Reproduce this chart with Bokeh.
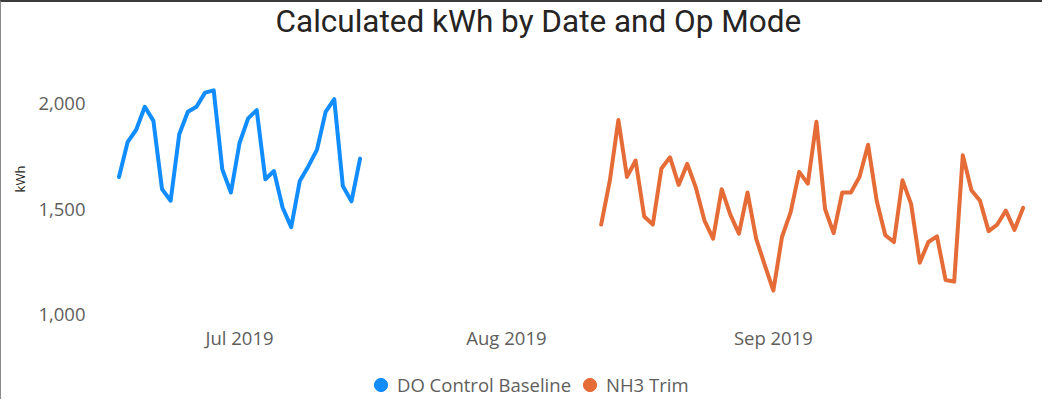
import pandas as pd
from bokeh.plotting import figure
from bokeh.layouts import column
from bokeh.models import (Range1d, FixedTicker, DatetimeTickFormatter,
                          NumeralTickFormatter, Legend, LegendItem, Title)
from bokeh.embed import file_html
from bokeh.resources import INLINE

# ---------------- data ----------------
title_text = "Calculated kWh by Date and Op Mode"
y_label = "kWh"
series_names = ["DO Control Baseline", "NH3 Trim"]
series_colors = ["#118DFF", "#E66C37"]

baseline_start = "2019-06-17"
baseline_kwh = [1653, 1818, 1877, 1986, 1919, 1595, 1540, 1856, 1962, 1986,
                2053, 2064, 1689, 1579, 1814, 1931, 1970, 1642, 1681, 1508,
                1415, 1634, 1704, 1783, 1962, 2022, 1610, 1537, 1740]

trim_start = "2019-08-12"
trim_kwh = [1427, 1634, 1923, 1653, 1731, 1465, 1427, 1693, 1746, 1615,
            1715, 1602, 1446, 1360, 1595, 1474, 1384, 1579, 1360, 1235,
            1114, 1368, 1485, 1677, 1621, 1915, 1501, 1386, 1579, 1579,
            1653, 1806, 1540, 1376, 1344, 1637, 1524, 1246, 1344, 1371,
            1164, 1156, 1756, 1590, 1540, 1396, 1427, 1493, 1402, 1506]

x_tick_dates = ["2019-07-01", "2019-08-01", "2019-09-01"]
y_ticks = [1000, 1500, 2000]

# ---------------- helpers ----------------
def ms(ts):
    return pd.Timestamp(ts).timestamp() * 1000.0

DAY = 86400000.0
baseline_dates = pd.date_range(baseline_start, periods=len(baseline_kwh), freq="D")
trim_dates = pd.date_range(trim_start, periods=len(trim_kwh), freq="D")
series_dates = [baseline_dates, trim_dates]
series_values = [baseline_kwh, trim_kwh]

x_start = ms("2019-07-01") - 16.03 * DAY
x_end = ms("2019-07-01") + 92.56 * DAY

FONT = "Open Sans"
TICK_COLOR = "#605E5C"
W = 1041

# ---------------- main chart ----------------
p = figure(width=W, height=350, output_backend="svg", toolbar_location=None,
           x_axis_type="datetime",
           x_range=Range1d(x_start, x_end), y_range=Range1d(990.6, 2295.8),
           min_border_left=100, min_border_right=6,
           min_border_top=39, min_border_bottom=33)
p.outline_line_color = None
p.xgrid.grid_line_color = None
p.ygrid.grid_line_color = None
p.background_fill_color = "white"
p.border_fill_color = "white"

p.title = Title(text=title_text, align="left", offset=174, vertical_align="top",
                standoff=0, text_font="Roboto", text_font_size="31.5px",
                text_font_style="normal", text_color="#252423")

for d, v, col in zip(series_dates, series_values, series_colors):
    p.line(d, v, line_color=col, line_width=4, line_join="round", line_cap="round")

xa = p.xaxis[0]
xa.ticker = FixedTicker(ticks=[ms(d) for d in x_tick_dates])
fmt = "%b %Y"
xa.formatter = DatetimeTickFormatter(microseconds=fmt, milliseconds=fmt, seconds=fmt,
                                     minsec=fmt, minutes=fmt, hourmin=fmt, hours=fmt,
                                     days=fmt, months=fmt, years=fmt)
xa.axis_line_color = None
xa.major_tick_line_color = None
xa.minor_tick_line_color = None
xa.major_tick_out = 0
xa.major_label_standoff = 8
xa.major_label_text_font = FONT
xa.major_label_text_font_size = "18.5px"
xa.major_label_text_color = TICK_COLOR

ya = p.yaxis[0]
ya.ticker = FixedTicker(ticks=y_ticks)
ya.formatter = NumeralTickFormatter(format="0,0")
ya.axis_line_color = None
ya.major_tick_line_color = None
ya.minor_tick_line_color = None
ya.major_tick_out = 0
ya.major_label_standoff = 16
ya.major_label_text_font = FONT
ya.major_label_text_font_size = "18.5px"
ya.major_label_text_color = TICK_COLOR
ya.axis_label = y_label
ya.axis_label_text_font = FONT
ya.axis_label_text_font_style = "normal"
ya.axis_label_text_font_size = "13px"
ya.axis_label_text_color = "#252423"
ya.axis_label_standoff = 6

# ---------------- legend strip ----------------
pl = figure(width=W, height=47, output_backend="svg", toolbar_location=None,
            x_range=Range1d(0, 1), y_range=Range1d(0, 1),
            x_axis_location=None, y_axis_location=None,
            min_border_left=0, min_border_right=0, min_border_top=0, min_border_bottom=0)
pl.outline_line_color = None
pl.xgrid.grid_line_color = None
pl.ygrid.grid_line_color = None
pl.background_fill_color = "white"
pl.border_fill_color = "white"

leg_items = []
for name, d, v, col in zip(series_names, series_dates, series_values, series_colors):
    # legend proxy: first point of each series, lies outside this strip's ranges
    r = pl.scatter(x=[ms(d[0])], y=[v[0]], marker="circle", size=14,
                   fill_color=col, line_color=col)
    leg_items.append(LegendItem(label=name, renderers=[r]))
legend = Legend(items=leg_items, orientation="horizontal", location=(263, -3),
                glyph_width=33, glyph_height=35, label_height=20, label_standoff=0,
                spacing=2, padding=0, margin=0, border_line_color=None,
                background_fill_alpha=0, label_text_font=FONT,
                label_text_font_size="18.5px", label_text_color=TICK_COLOR)
pl.add_layout(legend)

page = column(p, pl, spacing=0,
              styles={"border-top": "2px solid #3c3c3c", "border-left": "1px solid #8a8a8a"})

open("out.html", "w").write(file_html(page, INLINE))
